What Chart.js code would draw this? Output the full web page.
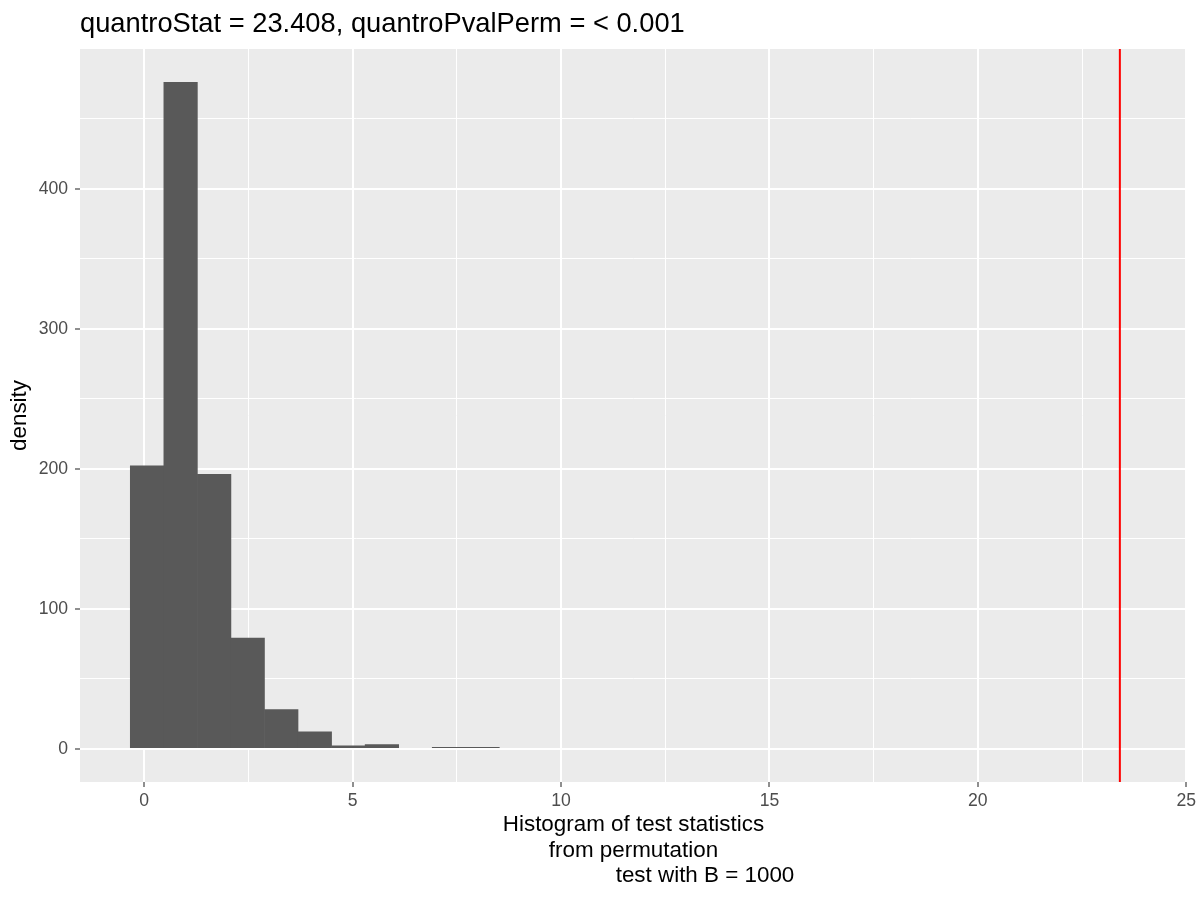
<!DOCTYPE html>
<html>
<head>
<meta charset="utf-8">
<script src="https://cdn.jsdelivr.net/npm/chart.js@4.4.1/dist/chart.umd.min.js"></script>
<style>
  body { margin: 0; background: #fff; }
</style>
</head>
<body>
<canvas id="histChart" width="1200" height="900"></canvas>
<script>
// bin centres (bin width ~0.805) and counts
const binCenters = [0.067, 0.872, 1.677, 2.482, 3.287, 4.092, 4.897, 5.702, 6.507, 7.312, 8.116];
const counts = [202, 476, 196, 79, 28, 12, 2, 3, 0, 1, 1];
const quantroStat = 23.408;
const xTickLabels = [0, 5, 10, 15, 20, 25];
const yTickLabels = [0, 100, 200, 300, 400];

const titleText = 'quantroStat = 23.408, quantroPvalPerm = < 0.001';
const xTitle = ['Histogram of test statistics', 'from permutation', '                       test with B = 1000'];

const FONT = '"Liberation Sans", Arial, sans-serif';

function isMajor(c, list) {
    if (!c || !c.tick) return false;
    const v = c.tick.value;
    return list.some(t => Math.abs(t - v) < 1e-6);
}

function isLabel(v, list) {
    return list.some(t => Math.abs(t - v) < 1e-6);
}

// grey panel behind the grid
const panelBg = {
    id: 'panelBg',
    beforeDraw(chart) {
        const a = chart.chartArea;
        const c = chart.ctx;
        c.save();
        c.fillStyle = '#EBEBEB';
        c.fillRect(a.left, a.top, a.right - a.left, a.bottom - a.top);
        c.restore();
    }
};

// red vertical line at the observed statistic + plot title
const extras = {
    id: 'extras',
    afterDatasetsDraw(chart) {
        const a = chart.chartArea;
        const c = chart.ctx;
        const px = chart.scales.x.getPixelForValue(quantroStat);
        c.save();
        c.strokeStyle = '#FF0000';
        c.lineWidth = 2;
        c.beginPath();
        c.moveTo(px, a.top);
        c.lineTo(px, a.bottom);
        c.stroke();
        c.restore();
    },
    afterDraw(chart) {
        const c = chart.ctx;
        c.save();
        c.fillStyle = '#000';
        c.font = '27.3px ' + FONT;
        c.textBaseline = 'alphabetic';
        c.textAlign = 'left';
        c.fillText(titleText, chart.chartArea.left, 32);
        c.restore();
    }
};

const ctx = document.getElementById('histChart').getContext('2d');
const histChart = new Chart(ctx, {
    type: 'bar',
    data: {
        datasets: [{
            // empty bins are left out so no hairline is drawn
            data: binCenters.map((x, i) => ({ x: x, y: counts[i] === 0 ? null : counts[i] })),
            backgroundColor: '#595959',
            borderWidth: 0,
            barPercentage: 1,
            categoryPercentage: 1
        }]
    },
    options: {
        responsive: false,
        animation: false,
        layout: { padding: { top: 49, right: 13, bottom: 0, left: 0 } },
        plugins: {
            legend: { display: false },
            tooltip: { enabled: false }
        },
        scales: {
            x: {
                type: 'linear',
                offset: false,
                min: -1.542,
                max: 25.017,
                border: { display: false },
                grid: {
                    offset: false,
                    color: '#FFFFFF',
                    lineWidth: c => isMajor(c, xTickLabels) ? 2 : 1,
                    tickColor: c => isMajor(c, xTickLabels) ? '#333333' : 'rgba(0,0,0,0)',
                    tickLength: 5,
                    tickWidth: 1.1
                },
                ticks: {
                    stepSize: 2.5,
                    includeBounds: false,
                    autoSkip: false,
                    maxRotation: 0,
                    padding: 4,
                    color: '#4D4D4D',
                    font: { family: FONT, size: 17.6 },
                    callback: v => isLabel(v, xTickLabels) ? String(v) : ''
                },
                title: {
                    display: true,
                    text: xTitle,
                    color: '#000',
                    font: { family: FONT, size: 22.4, lineHeight: 1.12 },
                    padding: { top: 0, bottom: 12 }
                },
                afterFit(scale) { scale.height = 118; }
            },
            y: {
                min: -23.8,
                max: 499.8,
                border: { display: false },
                grid: {
                    color: '#FFFFFF',
                    lineWidth: c => isMajor(c, yTickLabels) ? 2 : 1,
                    tickColor: c => isMajor(c, yTickLabels) ? '#333333' : 'rgba(0,0,0,0)',
                    tickLength: 5,
                    tickWidth: 1.1
                },
                ticks: {
                    stepSize: 50,
                    includeBounds: false,
                    autoSkip: false,
                    padding: 7,
                    color: '#4D4D4D',
                    font: { family: FONT, size: 17.6 },
                    callback: v => isLabel(v, yTickLabels) ? String(v) : ''
                },
                title: {
                    display: true,
                    text: 'density',
                    color: '#000',
                    font: { family: FONT, size: 22.4, lineHeight: 1.12 },
                    padding: { top: 7, bottom: 0 }
                },
                afterFit(scale) { scale.width = 80; }
            }
        }
    },
    plugins: [panelBg, extras]
});
</script>
</body>
</html>
